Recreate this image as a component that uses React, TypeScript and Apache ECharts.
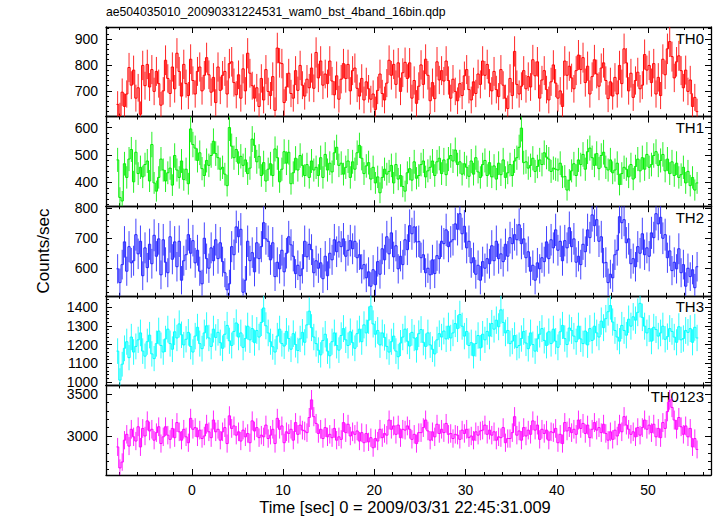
import React, { useEffect, useRef } from "react";
import * as echarts from "echarts";

// ---- data ----
const binStart = -8.25; // s, left edge of first bin
const binWidth = 0.25; // s

const th0 = [
  648, 605, 695, 640, 688, 790, 722, 780, 672, 712,
  610, 798, 720, 802, 715, 782, 698, 775, 728, 645,
  700, 818, 748, 690, 792, 708, 845, 775, 680, 802,
  728, 682, 822, 740, 688, 775, 792, 700, 760, 828,
  762, 695, 752, 655, 792, 702, 760, 775, 688, 805,
  812, 732, 685, 762, 672, 785, 700, 845, 768, 720,
  672, 712, 640, 748, 665, 782, 698, 682, 755, 625,
  865, 808, 805, 655, 715, 768, 690, 672, 778, 702,
  798, 722, 680, 745, 712, 788, 710, 848, 750, 815,
  722, 765, 728, 815, 738, 685, 758, 668, 745, 805,
  748, 802, 700, 778, 788, 710, 680, 748, 665, 735,
  708, 668, 688, 628, 702, 765, 690, 665, 730, 818,
  760, 802, 725, 808, 698, 770, 810, 748, 808, 672,
  740, 652, 718, 800, 725, 822, 760, 662, 732, 670,
  812, 742, 778, 738, 815, 740, 672, 745, 698, 662,
  728, 682, 758, 782, 705, 665, 735, 690, 765, 725,
  815, 760, 802, 730, 700, 775, 705, 678, 782, 722,
  672, 632, 748, 682, 852, 725, 688, 718, 778, 708,
  755, 715, 820, 758, 812, 672, 742, 778, 705, 665,
  735, 800, 730, 672, 700, 640, 815, 760, 795, 750,
  708, 778, 838, 782, 828, 732, 795, 688, 755, 820,
  765, 718, 788, 808, 740, 670, 735, 680, 752, 688,
  798, 728, 862, 808, 700, 768, 675, 740, 772, 708,
  722, 840, 780, 798, 732, 805, 688, 752, 682, 822,
  762, 862, 890, 832, 750, 812, 835, 778, 712, 780,
  698, 742, 640, 675, 620,
];

const th1 = [
  482, 345, 332, 468, 418, 485, 520, 402, 510, 432,
  455, 420, 465, 478, 405, 538, 398, 368, 418, 485,
  445, 405, 435, 452, 390, 498, 445, 418, 478, 410,
  448, 395, 595, 538, 525, 480, 508, 450, 425, 480,
  462, 498, 550, 505, 490, 448, 455, 430, 388, 600,
  532, 490, 520, 470, 495, 462, 482, 432, 452, 558,
  535, 475, 495, 425, 472, 405, 448, 468, 425, 522,
  490, 402, 448, 512, 470, 510, 395, 435, 488, 445,
  498, 462, 425, 465, 418,
  478, 445, 455, 425, 490, 418, 502, 445, 470, 438, 508, 528, 462, 470,
  430, 455, 478, 418, 475, 448, 508, 535, 488, 432, 460, 472, 412,
  455, 398, 420, 362, 418, 448, 430, 440, 462, 398, 465, 412, 425,
  385, 368, 435, 450, 408, 475, 415, 425, 465, 478, 420, 442, 455,
  478, 425, 475, 488, 432, 482, 428, 485, 498, 478, 518, 465, 475, 430,
  468, 455, 422, 478, 430, 490, 438, 418, 465, 480, 425, 472, 420,
  460, 412, 470, 428, 482, 418, 435, 465, 425, 478, 490, 528, 598,
  472, 475, 452, 462, 488, 440, 458, 482, 465, 508, 492, 485, 440,
  452, 448, 445, 470, 420, 422, 372, 408, 442, 468, 425, 482, 465,
  502, 448, 512, 525, 490, 462, 505, 450, 498, 510, 455, 445, 482,
  435, 445, 470, 392, 432, 455, 448, 420, 465, 412, 458, 485, 442,
  490, 448, 502, 455, 465, 498, 512, 462, 480, 502, 442, 485, 432, 475,
  425, 470, 418, 428, 455, 398, 440, 388, 418, 372, 398,
];

const th2 = [
  598, 552, 612, 688, 590, 672, 618, 625, 712, 648,
  690, 575, 668, 602, 680, 615, 710, 640, 698, 578,
  695, 620, 585, 705, 630, 688, 605, 690, 560, 625,
  645, 712, 650, 692, 618, 660, 590, 548, 700, 632,
  600, 668, 625, 695, 632, 685, 622, 585, 528, 548,
  672, 645, 738, 705, 730, 520, 560, 690, 625, 652,
  588, 685, 632, 672, 752, 698, 690, 628, 685, 572,
  620, 598, 660, 588, 650, 705, 678, 640, 582, 610,
  575, 598, 690, 638, 680,
  662, 585, 625, 600, 618, 565, 640, 575, 650,
  628, 695, 655, 688, 672, 698, 640, 660, 692, 665, 690, 635, 645, 598, 612, 568,
  588, 540, 595, 545, 622, 580, 665, 628,
  705, 648, 718, 638, 675, 598, 640, 612, 695,
  662, 742, 715, 738, 688, 690, 635, 645, 585, 600, 578,
  628, 582, 642, 632, 690, 682, 728, 672, 688, 695, 748,
  730, 782, 715, 740, 668, 690, 618, 635, 580,
  610, 560, 622, 600, 632, 615, 675, 625, 690, 632, 648,
  622, 680, 640, 702, 682, 712, 695, 745, 682, 698, 635,
  655, 590, 610, 560, 618, 598, 635, 622, 688, 632, 695,
  668, 728, 660, 690, 625, 692, 668, 735, 672, 698, 620, 640, 612,
  680, 655, 728, 702, 778, 742, 762, 690, 705, 618, 620,
  552, 580, 568, 645, 660, 772, 752, 762,
  685, 698, 615, 632, 605, 672, 650, 715, 645, 668, 640,
  718, 702, 782, 748, 770, 700, 712, 635, 658, 592, 620,
  598, 665, 585, 612, 540, 600, 572, 595, 535, 605,
];

const th3 = [
  1165, 1010, 1095, 1180, 1215, 1130, 1240, 1160, 1190, 1225,
  1262, 1165, 1138, 1215, 1250, 1150, 1125, 1205, 1272, 1195,
  1160, 1230, 1282, 1205, 1175, 1268, 1235, 1310, 1252, 1198,
  1228, 1265, 1190, 1160, 1245, 1292, 1205, 1178, 1262, 1300,
  1235, 1190, 1282, 1238, 1265, 1210, 1180, 1255, 1302, 1220,
  1195, 1270, 1315, 1240, 1262, 1185, 1232, 1298, 1225, 1285,
  1210, 1275, 1240, 1318, 1395, 1300, 1262, 1215, 1188, 1160,
  1245, 1282, 1205, 1192, 1270, 1232, 1175, 1258, 1200, 1168,
  1230, 1265, 1212, 1305, 1378, 1290, 1240, 1205, 1170, 1145,
  1222, 1255, 1165, 1140, 1215, 1262, 1195, 1170, 1248, 1285,
  1225, 1195, 1268, 1210, 1180, 1258, 1282, 1215, 1305, 1262,
  1330, 1405, 1310, 1255, 1275, 1198, 1262, 1238, 1190, 1160,
  1215, 1245, 1165, 1135, 1208, 1240, 1282, 1218, 1192, 1265,
  1235, 1172, 1258, 1280, 1212, 1190, 1262, 1198, 1175, 1150,
  1225, 1258, 1240, 1272, 1230, 1298, 1235, 1262, 1312, 1285,
  1360, 1298, 1245, 1270, 1195, 1210, 1140, 1205, 1248, 1182,
  1255, 1225, 1270, 1245, 1312, 1282, 1330, 1295, 1385, 1318,
  1262, 1275, 1205, 1218, 1248, 1185, 1195, 1232, 1270, 1208,
  1178, 1262, 1200, 1165, 1230, 1255, 1285, 1222, 1195, 1268,
  1205, 1282, 1218, 1185, 1268, 1302, 1232, 1200, 1288, 1275,
  1245, 1215, 1298, 1230, 1205, 1272, 1198, 1285, 1222, 1298,
  1262, 1240, 1325, 1290, 1338, 1375, 1408, 1320, 1275, 1240,
  1218, 1302, 1275, 1250, 1335, 1298, 1348, 1330, 1372, 1420,
  1345, 1298, 1262, 1285, 1218, 1292, 1280, 1245, 1262, 1298,
  1228, 1242, 1285, 1270, 1240, 1212, 1295, 1225, 1232, 1275,
  1265, 1285, 1212, 1292, 1235,
];

const th0123 = [
  2870, 2620, 2690, 2950, 3020, 2880, 3080, 2990, 2940, 3110,
  2870, 3090, 3000, 3180, 3060, 3080, 2950, 3040, 3110, 2910,
  2990, 3110, 3010, 2960, 3090, 2980, 3160, 3050, 2950, 3080,
  2990, 2920, 3210, 3080, 3100, 2990, 3070, 2970, 3000, 3140,
  3050, 2980, 3190, 3050, 3080, 2950, 3050, 3100, 2910, 3240,
  3090, 3120, 3010, 3050, 2940, 3070, 2990, 3030, 2920, 3180,
  3060, 3100, 2980, 3010, 2990, 3130, 2970, 3010, 3080, 2910,
  3210, 3080, 3120, 2920, 3050, 3030, 3080, 2950, 3160, 3020,
  3130, 3070, 3060, 3040, 3220, 3430, 3230, 3150, 3030, 3080,
  2970, 3100, 2990, 3020, 2980, 3090, 2950, 2990, 2960, 3160,
  3040, 3140, 3000, 3050, 3020, 3060, 2940, 3040, 2920, 3030,
  2930, 2980, 2860, 2970, 2940, 3080, 2980, 3030, 3010, 3190,
  3080, 3120, 3020, 3130, 2980, 3080, 3070, 3120, 3080, 2960,
  3020, 2910, 3040, 3040, 3100, 3190, 3060, 2950, 3050, 2990,
  3140, 3030, 3080, 3040, 3150, 3020, 3030, 2970, 3020, 3010,
  2960, 3070, 3030, 3080, 2980, 3000, 2950, 3050, 3010, 3060,
  3070, 3130, 3020, 3070, 3010, 3050, 2950, 2990, 2980, 3100,
  2920, 2970, 2970, 3040, 3230, 3010, 3060, 2950, 3100, 3000,
  3070, 3020, 3180, 3070, 3130, 2960, 3080, 3030, 3070, 2950,
  3050, 3040, 3090, 2920, 3020, 2910, 3160, 3060, 3100, 3040,
  3080, 3020, 3190, 3090, 3150, 3030, 3130, 2980, 3080, 3160,
  3070, 3100, 3040, 3140, 3030, 2950, 3050, 2960, 3070, 3000,
  3140, 3050, 3230, 3130, 3080, 3020, 3050, 2990, 3100, 3010,
  3100, 3190, 3080, 3130, 3040, 3140, 2990, 3090, 2980, 3160,
  3090, 3290, 3430, 3340, 3190, 3080, 3220, 3110, 3020, 3120,
  2990, 3090, 2870, 2970, 2840,
];

const panelNames = ["TH0", "TH1", "TH2", "TH3", "TH0123"];
const panelColors = ["#ff0000", "#00ee00", "#2222ff", "#00ffff", "#ff00ff"];
const yMins = [601, 313, 508, 982, 2536];
const yMaxs = [946, 640, 807, 1460, 3602];
const yLabelTicks = [
  [700, 800, 900],
  [400, 500, 600],
  [600, 700, 800],
  [1000, 1100, 1200, 1300, 1400],
  [3000, 3500],
];
const yMinorSteps = [20, 20, 20, 20, 100];
const xMin = -9.4;
const xMax = 56.9;
const xLabelTicks = [0, 10, 20, 30, 40, 50];
const xMinorStep = 2;
const titleText = "ae504035010_20090331224531_wam0_bst_4band_16bin.qdp";
const xTitle = "Time [sec] 0 = 2009/03/31 22:45:31.009";
const yTitle = "Counts/sec";

// ---- layout ----
const W = 717;
const H = 516;
const GRID_LEFT = 106;
const GRID_W = 605;
const GRID_TOP = 27;
const PANEL_H = 89.6;
const FONT = "'Liberation Sans', Arial, Helvetica, sans-serif";

function stepList(lo: number, hi: number, step: number) {
  const out: number[] = [];
  for (let v = Math.ceil(lo / step) * step; v <= hi + 1e-9; v += step) out.push(v);
  return out;
}

function buildOption() {
  const series: any[] = [];
  const xAxis: any[] = [];
  const yAxis: any[] = [];
  const grid: any[] = [];
  const graphic: any[] = [];
  const allData = [th0, th1, th2, th3, th0123];
  const xMinor = stepList(xMin, xMax, xMinorStep);
  const frameLine = { show: true, onZero: false, lineStyle: { color: "#000", width: 1.3 } };
  const noLine = { show: false, onZero: false };
  const tickStyle = { color: "#000", width: 1 };
  const labelFmt = (v: number) => String(v);

  allData.forEach((vals, p) => {
    grid.push({ left: GRID_LEFT, top: GRID_TOP + p * PANEL_H, width: GRID_W, height: PANEL_H });
    const xBase = {
      type: "value",
      gridIndex: p,
      min: xMin,
      max: xMax,
      splitLine: { show: false },
      axisLabel: { show: false },
      axisLine: noLine,
    };
    xAxis.push({
      ...xBase,
      position: "bottom",
      axisLine: frameLine,
      axisTick: { show: true, inside: true, length: 3, customValues: xMinor, lineStyle: tickStyle },
      axisLabel:
        p === allData.length - 1
          ? { show: true, customValues: xLabelTicks, formatter: labelFmt, color: "#000", fontSize: 14, fontFamily: FONT, margin: 8 }
          : { show: false },
    });
    xAxis.push({
      ...xBase,
      position: "top",
      axisLine: frameLine,
      axisTick: { show: true, inside: true, length: 3, customValues: xMinor, lineStyle: tickStyle },
    });
    xAxis.push({
      ...xBase,
      position: "bottom",
      axisTick: { show: true, inside: true, length: 6, customValues: xLabelTicks, lineStyle: tickStyle },
    });
    xAxis.push({
      ...xBase,
      position: "top",
      axisTick: { show: true, inside: true, length: 6, customValues: xLabelTicks, lineStyle: tickStyle },
    });

    const yMinor = stepList(yMins[p], yMaxs[p], yMinorSteps[p]);
    const yBase = {
      type: "value",
      gridIndex: p,
      min: yMins[p],
      max: yMaxs[p],
      splitLine: { show: false },
      axisLabel: { show: false },
      axisLine: noLine,
    };
    yAxis.push({
      ...yBase,
      position: "left",
      axisLine: frameLine,
      axisTick: { show: true, inside: true, length: 3, customValues: yMinor, lineStyle: tickStyle },
      axisLabel: {
        show: true,
        customValues: yLabelTicks[p],
        formatter: labelFmt,
        color: "#000",
        fontSize: 14,
        fontFamily: FONT,
        margin: 8,
      },
    });
    yAxis.push({
      ...yBase,
      position: "right",
      axisLine: frameLine,
      axisTick: { show: true, inside: true, length: 3, customValues: yMinor, lineStyle: tickStyle },
    });
    yAxis.push({
      ...yBase,
      position: "left",
      axisTick: { show: true, inside: true, length: 6, customValues: yLabelTicks[p], lineStyle: tickStyle },
    });
    yAxis.push({
      ...yBase,
      position: "right",
      axisTick: { show: true, inside: true, length: 6, customValues: yLabelTicks[p], lineStyle: tickStyle },
    });

    const color = panelColors[p];
    const errData = vals.map((v, i) => [binStart + binWidth * (i + 0.5), v, 2 * Math.sqrt(v)]);
    const stepData = vals.map((v, i) => [binStart + binWidth * i, v]);
    stepData.push([binStart + binWidth * vals.length, vals[vals.length - 1]]);

    series.push({
      type: "custom",
      xAxisIndex: p * 4,
      yAxisIndex: p * 4,
      silent: true,
      data: errData,
      renderItem: (params: any, api: any) => {
        const x = api.value(0);
        const v = api.value(1);
        const e = api.value(2);
        const top = api.coord([x, v + e]);
        const bot = api.coord([x, v - e]);
        const cs = params.coordSys;
        const y1 = Math.max(cs.y, top[1]);
        const y2 = Math.min(cs.y + cs.height, bot[1]);
        if (y2 <= y1) return null;
        return {
          type: "line",
          shape: { x1: top[0], y1, x2: top[0], y2 },
          style: { stroke: color, lineWidth: 1, opacity: 0.85 },
        };
      },
    });
    series.push({
      type: "line",
      xAxisIndex: p * 4,
      yAxisIndex: p * 4,
      data: stepData,
      step: "end",
      symbol: "none",
      showSymbol: false,
      silent: true,
      clip: true,
      lineStyle: { color, width: 1 },
    });

    graphic.push({
      type: "text",
      x: 704,
      y: GRID_TOP + p * PANEL_H + 11,
      style: {
        text: panelNames[p],
        font: `15px ${FONT}`,
        fill: "#000",
        align: "right",
        verticalAlign: "middle",
        textAlign: "right",
        textVerticalAlign: "middle",
      },
    });
  });

  graphic.push({
    type: "text",
    x: 106,
    y: 12,
    style: {
      text: titleText,
      font: `12.2px ${FONT}`,
      fill: "#000",
      align: "left",
      verticalAlign: "middle",
      textAlign: "left",
      textVerticalAlign: "middle",
    },
  });
  graphic.push({
    type: "text",
    x: 405,
    y: 507,
    style: {
      text: xTitle,
      font: `16.5px ${FONT}`,
      fill: "#000",
      align: "center",
      verticalAlign: "middle",
      textAlign: "center",
      textVerticalAlign: "middle",
    },
  });
  graphic.push({
    type: "text",
    x: 43,
    y: 251,
    rotation: Math.PI / 2,
    style: {
      text: yTitle,
      font: `17px ${FONT}`,
      fill: "#000",
      align: "center",
      verticalAlign: "middle",
      textAlign: "center",
      textVerticalAlign: "middle",
    },
  });

  return {
    animation: false,
    backgroundColor: "#fff",
    textStyle: { fontFamily: FONT },
    grid,
    xAxis,
    yAxis,
    series,
    graphic,
  };
}

export default function App() {
  const ref = useRef<HTMLDivElement>(null);
  useEffect(() => {
    if (!ref.current) return;
    const chart = echarts.init(ref.current, undefined, { renderer: "svg" });
    chart.setOption(buildOption() as any);
    return () => chart.dispose();
  }, []);
  return (
    <div
      ref={ref}
      style={{ position: "fixed", left: 0, top: 0, width: W, height: H, background: "#fff" }}
    />
  );
}
